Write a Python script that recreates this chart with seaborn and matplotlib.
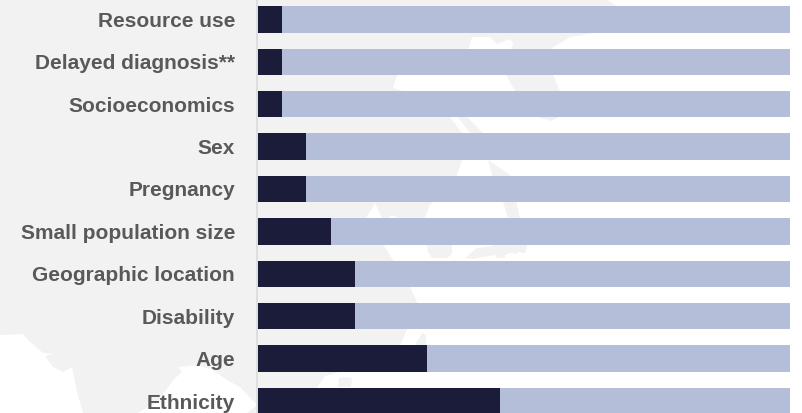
import matplotlib
matplotlib.use("Agg")
import matplotlib.pyplot as plt
from matplotlib.patches import Polygon
import pandas as pd
import seaborn as sns

categories = ["Resource use", "Delayed diagnosis**", "Socioeconomics", "Sex", "Pregnancy",
              "Small population size", "Geographic location", "Disability", "Age", "Ethnicity"]
reported = [1, 1, 1, 2, 2, 3, 4, 4, 7, 10]
total = [22] * 10

NAVY = "#1a1c3a"
PERIWINKLE = "#b4bed8"
LAND = "#f2f2f2"
WIDTH, HEIGHT = 802, 413

# Faint world-map backdrop, outlined in figure pixels
land_main = [(0, 0), (607, 0), (617, 6), (593, 33), (570, 37), (552, 48), (553, 75), (560, 91),
             (558, 117), (552, 121), (540, 118), (515, 91), (506, 75), (513, 43), (510, 39),
             (497, 44), (490, 37), (472, 37), (469, 48), (440, 60), (397, 75), (393, 88), (403, 91),
             (450, 117), (462, 133), (462, 160), (457, 175), (430, 205), (425, 218), (452, 244),
             (452, 254), (447, 258), (432, 258), (428, 252), (427, 244), (400, 222), (383, 244),
             (393, 260), (410, 287), (417, 302), (407, 330), (400, 345), (352, 371), (340, 372),
             (325, 376), (318, 386), (305, 413), (83, 413), (77, 392), (72, 367), (63, 372),
             (53, 367), (45, 356), (53, 354), (43, 353), (30, 342), (23, 334), (0, 335)]
land_stripe = [(458, 117), (467, 117), (483, 133), (470, 133)]
land_tail = [(488, 160), (510, 175), (520, 218), (527, 246), (525, 253), (518, 252), (517, 254),
             (510, 253), (505, 255), (505, 258), (497, 258), (495, 255), (483, 257), (473, 259),
             (465, 258), (477, 248), (493, 246), (508, 218), (503, 202), (492, 175)]
land_isle_a = [(415, 345), (422, 333), (426, 335), (426, 345)]
land_isle_b = [(338, 387), (339, 378), (345, 377), (352, 378), (351, 387)]
sea_south = [(137, 413), (157, 403), (173, 380), (182, 372), (178, 367), (197, 365), (213, 370),
             (227, 380), (240, 387), (257, 405), (247, 413)]
sea_notch = [(375, 203), (366, 218), (382, 218)]
sea_cove = [(388, 218), (392, 215), (398, 218)]

sns.set_theme(style="white")
plt.rcParams["font.family"] = ["Liberation Sans", "DejaVu Sans"]
plt.rcParams["font.weight"] = "bold"

fig = plt.figure(figsize=(WIDTH / 100, HEIGHT / 100), dpi=100, facecolor="white")

backdrop = fig.add_axes([0, 0, 1, 1], zorder=0)
backdrop.set_xlim(0, WIDTH)
backdrop.set_ylim(HEIGHT, 0)
backdrop.axis("off")
for shape in (land_main, land_stripe, land_tail, land_isle_a, land_isle_b):
    backdrop.add_patch(Polygon(shape, closed=True, facecolor=LAND, edgecolor="none"))
for shape in (sea_south, sea_notch, sea_cove):
    backdrop.add_patch(Polygon(shape, closed=True, facecolor="white", edgecolor="none"))

ax = fig.add_axes([258.0 / WIDTH, 0, (790.3 - 258.0) / WIDTH, 1], zorder=1)
ax.patch.set_alpha(0)

frame = pd.DataFrame({"category": categories, "reported": reported, "total": total})
sns.barplot(data=frame, y="category", x="total", color=PERIWINKLE, width=0.627,
            saturation=1, linewidth=0, edgecolor="none", ax=ax, order=categories)
sns.barplot(data=frame, y="category", x="reported", color=NAVY, width=0.627,
            saturation=1, linewidth=0, edgecolor="none", ax=ax, order=categories)

ax.set_xlim(0, 22)
ax.set_ylim(9.283, -0.4575)
ax.set_xlabel("")
ax.set_ylabel("")
ax.xaxis.set_visible(False)
ax.tick_params(axis="y", length=0, pad=16, labelsize=15, labelcolor="#595959")

sns.despine(ax=ax, top=True, right=True, bottom=True, left=False)
ax.spines["left"].set_color("#d9d9d9")
ax.spines["left"].set_linewidth(1.1)
ax.spines["left"].set_position(("outward", 0.5))

fig.savefig("out.png", dpi=100, facecolor="white")
